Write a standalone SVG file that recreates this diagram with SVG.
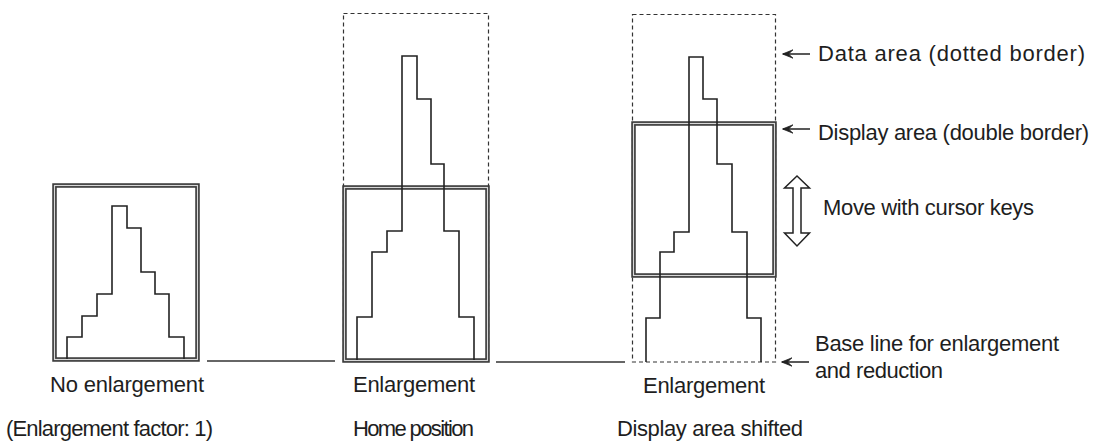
<svg xmlns="http://www.w3.org/2000/svg" width="1096" height="442" viewBox="0 0 1096 442">
<style>
  .bg { fill: #ffffff; }
  .dbl-outer { fill: none; stroke: #3a3a3a; stroke-width: 4.5; }
  .dbl-inner { fill: none; stroke: #d8d8d8; stroke-width: 1.2; }
  .data { fill: none; stroke: #333; stroke-width: 1.2; stroke-dasharray: 4 3; }
  .hist { fill: none; stroke: #222; stroke-width: 1.6; stroke-linejoin: miter; }
  .base { fill: none; stroke: #333; stroke-width: 1.5; }
  .ptr { fill: none; stroke: #222; stroke-width: 1.5; }
  .move { fill: #fff; stroke: #222; stroke-width: 1.5; stroke-linejoin: miter; }
  text { font-family: "Liberation Sans", Arial, Helvetica, sans-serif; font-size: 22px; fill: #1e1e1e; }
</style>
<defs>
  <marker id="head" viewBox="0 0 12 10" refX="11" refY="5" markerWidth="12" markerHeight="10" markerUnits="userSpaceOnUse" orient="auto">
    <path d="M1,0.8 L11.5,5 L1,9.2 L5.5,5 Z" fill="#222" stroke="#222" stroke-width="0.8" stroke-linejoin="round"/>
  </marker>
</defs>
<rect class="bg" x="0" y="0" width="1096" height="442"/>

<g id="panel-no-enlargement">
  <rect class="dbl-outer" x="54.5" y="185.5" width="143" height="174"/>
  <rect class="dbl-inner" x="54.5" y="185.5" width="143" height="174"/>
  <polyline class="hist" points="67,359 67,337 82,337 82,316 97,316 97,294 112,294 112,206 127,206 127,228 141,228 141,272 155,272 155,294 169,294 169,337 184,337 184,359"/>
  <text x="50" y="392" textLength="154" lengthAdjust="spacing">No enlargement</text>
  <text x="6" y="436" textLength="207" lengthAdjust="spacing">(Enlargement factor: 1)</text>
</g>

<g id="panel-home">
  <rect class="data" x="343.5" y="13.5" width="145" height="348"/>
  <rect class="dbl-outer" x="344.5" y="187.5" width="143" height="173"/>
  <rect class="dbl-inner" x="344.5" y="187.5" width="143" height="173"/>
  <polyline class="hist" points="357,360 357,317 372,317 372,252 387,252 387,231 402,231 402,56 417,56 417,99 431,99 431,164 444,164 444,231 459,231 459,317 474,317 474,360"/>
  <text x="353" y="392" textLength="122" lengthAdjust="spacing">Enlargement</text>
  <text x="353" y="436" textLength="121" lengthAdjust="spacing">Home position</text>
</g>

<g id="panel-shifted">
  <rect class="data" x="632.5" y="14.5" width="143" height="347.5"/>
  <rect class="dbl-outer" x="633.5" y="123.5" width="141" height="152"/>
  <rect class="dbl-inner" x="633.5" y="123.5" width="141" height="152"/>
  <polyline class="hist" points="646,362 646,318 660,318 660,252 674,252 674,232 689,232 689,57 703,57 703,99 717,99 717,164 732,164 732,232 747,232 747,318 761,318 761,362"/>
  <text x="643" y="393" textLength="122" lengthAdjust="spacing">Enlargement</text>
  <text x="617" y="436" textLength="186" lengthAdjust="spacing">Display area shifted</text>
</g>

<g id="connectors">
  <line class="base" x1="207" y1="361" x2="335" y2="361"/>
  <line class="base" x1="496" y1="362" x2="625" y2="362"/>
  <line class="ptr" x1="810" y1="54" x2="783" y2="54" marker-end="url(#head)"/>
  <line class="ptr" x1="810" y1="129" x2="783" y2="129" marker-end="url(#head)"/>
  <line class="ptr" x1="809" y1="362" x2="782" y2="362" marker-end="url(#head)"/>
  <polygon class="move" points="797,176 809.5,188 801,188 801,233 809.5,233 797,246 784.5,233 793,233 793,188 784.5,188"/>
</g>

<g id="labels">
  <text x="818" y="61" textLength="267" lengthAdjust="spacing">Data area (dotted border)</text>
  <text x="818" y="140" textLength="271" lengthAdjust="spacing">Display area (double border)</text>
  <text x="823" y="215" textLength="211" lengthAdjust="spacing">Move with cursor keys</text>
  <text x="815" y="351" textLength="244" lengthAdjust="spacing">Base line for enlargement</text>
  <text x="815" y="378" textLength="128" lengthAdjust="spacing">and reduction</text>
</g>
</svg>
